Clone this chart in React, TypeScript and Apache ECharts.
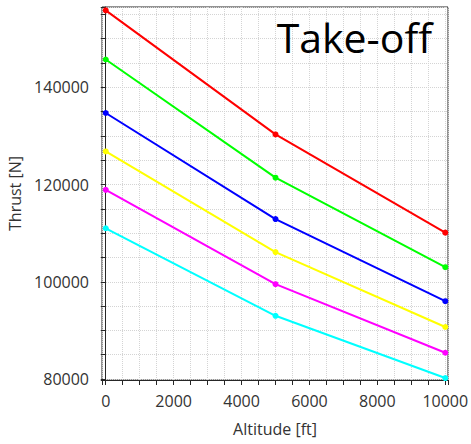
import React, { useEffect, useRef } from "react";
import * as echarts from "echarts";

const altitudes = [0, 5000, 10000];
const seriesNames = ["S1", "S2", "S3", "S4", "S5", "S6"];
const seriesColors = ["#ff0000", "#00ff00", "#0000ff", "#ffff00", "#ff00ff", "#00ffff"];
const thrustRed = [155800, 130300, 110100];
const thrustGreen = [145700, 121400, 103000];
const thrustBlue = [134700, 112900, 96000];
const thrustYellow = [126800, 106100, 90700];
const thrustMagenta = [118900, 99500, 85400];
const thrustCyan = [111000, 93000, 80200];
const allThrust = [thrustRed, thrustGreen, thrustBlue, thrustYellow, thrustMagenta, thrustCyan];

const FONT = "'Open Sans', 'Noto Sans', sans-serif";

export default function App() {
  const ref = useRef<HTMLDivElement>(null);
  useEffect(() => {
    if (!ref.current) return;
    const chart = echarts.init(ref.current, undefined, { renderer: "svg" });
    const gridLine = { show: true, lineStyle: { color: "#d4d4d4", type: [1, 1], width: 1 } };
    const fmt = (v: number) => String(Math.round(v));
    chart.setOption({
      animation: false,
      textStyle: { fontFamily: FONT },
      grid: {
        left: 102,
        right: 23,
        top: 7,
        bottom: 64,
        show: true,
        borderColor: "#262626",
        borderWidth: 1,
        containLabel: false,
        outerBoundsMode: "none",
      },
      graphic: [
        {
          type: "text",
          right: 39,
          top: 16,
          style: { text: "Take-off", font: `41px ${FONT}`, fill: "#000" },
          z: 10,
        },
      ],
      xAxis: {
        type: "value",
        min: -110,
        max: 10080,
        splitNumber: 5,
        name: "Altitude [ft]",
        nameLocation: "middle",
        nameGap: 41,
        nameTextStyle: { fontSize: 16, color: "#333", fontFamily: FONT },
        axisLine: { show: true, lineStyle: { color: "#262626" } },
        axisTick: { show: true, inside: false, length: 5, lineStyle: { color: "#262626" } },
        minorTick: { show: true, splitNumber: 4, length: 5, lineStyle: { color: "#262626" } },
        axisLabel: {
          showMinLabel: false,
          showMaxLabel: false,
          fontSize: 16,
          color: "#333",
          margin: 13,
          fontFamily: FONT,
          formatter: fmt,
        },
        splitLine: gridLine,
        minorSplitLine: gridLine,
      },
      yAxis: {
        type: "value",
        min: 79800,
        max: 156500,
        splitNumber: 4,
        name: "Thrust [N]",
        nameLocation: "middle",
        nameGap: 74,
        nameTextStyle: { fontSize: 16, color: "#333", fontFamily: FONT },
        axisLine: { show: true, lineStyle: { color: "#262626" } },
        axisTick: { show: true, inside: false, length: 5, lineStyle: { color: "#262626" } },
        minorTick: { show: true, splitNumber: 4, length: 5, lineStyle: { color: "#262626" } },
        axisLabel: {
          showMinLabel: false,
          showMaxLabel: false,
          fontSize: 16,
          color: "#333",
          margin: 13,
          fontFamily: FONT,
          formatter: fmt,
        },
        splitLine: gridLine,
        minorSplitLine: gridLine,
      },
      series: allThrust.map((vals, i) => ({
        name: seriesNames[i],
        type: "line",
        data: altitudes.map((a, j) => [a, vals[j]]),
        symbol: "circle",
        symbolSize: 6,
        showSymbol: true,
        lineStyle: { color: seriesColors[i], width: 2 },
        itemStyle: { color: seriesColors[i] },
      })),
    });
    return () => chart.dispose();
  }, []);
  return <div ref={ref} style={{ width: 471, height: 444, position: "absolute", left: 0, top: 0 }} />;
}
